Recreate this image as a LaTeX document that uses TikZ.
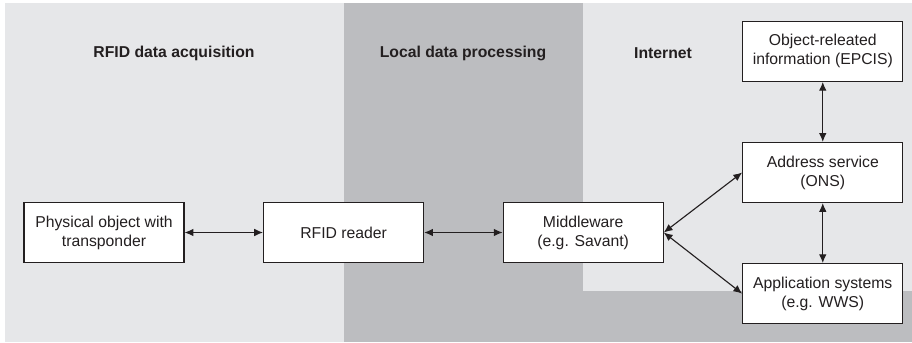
\documentclass[tikz,border=0pt]{standalone}
\usepackage{fontspec}
\setsansfont{Liberation Sans}
\usepackage{xcolor}
\definecolor{zonelight}{HTML}{E6E7E9}
\definecolor{zonedark}{HTML}{BCBDC0}
\definecolor{ink}{HTML}{231F20}
\usepackage{tikz}
\usetikzlibrary{arrows.meta, positioning}

\begin{document}
\begin{tikzpicture}[x=0.025cm, y=-0.025cm, node distance=1.96cm,
    >={Latex[length=2.2mm, width=1.9mm]},
    box/.style={draw=ink, fill=white, line width=0.8pt,
        minimum width=4cm, minimum height=1.5cm, align=center,
        font=\sffamily\fontsize{11.2}{13.5}\selectfont, text=ink},
    head/.style={font=\sffamily\bfseries\fontsize{11.2}{13.5}\selectfont, text=ink},
    link/.style={<->, line width=0.8pt, draw=ink}]

  % Zones
  \useasboundingbox (0,0) rectangle (912,342);
  \fill[zonelight] (5,3) rectangle (344,342);
  \fill[zonedark] (344,3) rectangle (912,342);
  \fill[zonelight] (583,3) rectangle (912,291);

  \node[head] (acqhead) at (174,53) {RFID data acquisition};
  \node[head] (lochead) at (463,53) {Local data processing};
  \node[head] (nethead) at (663,53) {Internet};

  % Acquisition chain
  \node[box] (phys) at (104,232.5) {Physical object with\\transponder};
  \node[box, right=of phys] (reader) {RFID reader};
  \node[box, right=of reader] (mware) {Middleware\\(e.g. Savant)};

  \draw[link] (phys) -- (reader);
  \draw[link] (reader) -- (mware);

  % Internet services
  \node[box, right=of mware, yshift=1.5cm] (ons) {Address service\\(ONS)};
  \node[box, above=1.5cm of ons] (epcis) {Object-releated\\information (EPCIS)};
  \node[box, below=1.5cm of ons] (apps) {Application systems\\(e.g. WWS)};

  \draw[link] (mware.east) -- (ons.west);
  \draw[link] (mware.east) -- (apps.west);
  \draw[link] (epcis) -- (ons);
  \draw[link] (ons) -- (apps);

\end{tikzpicture}
\end{document}
